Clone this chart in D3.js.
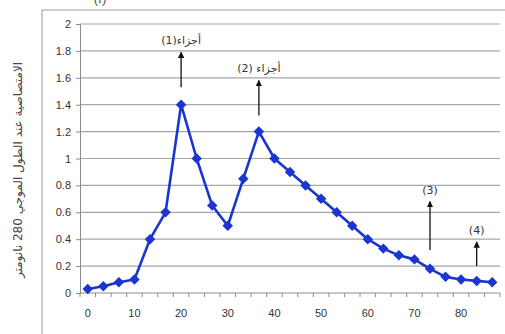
<!DOCTYPE html>
<html>
<head>
<meta charset="utf-8">
<script src="https://cdn.jsdelivr.net/npm/d3@7"></script>
<style>
  body { margin: 0; background: #fff; }
  svg { display: block; font-family: "Liberation Sans", Arial, sans-serif; }
</style>
</head>
<body>
<svg id="chart" width="505" height="334"></svg>
<script>
// fraction number along the x axis (every third one is labelled)
const categories = [0, 3.3, 6.7, 10, 13.3, 16.7, 20, 23.3, 26.7, 30, 33.3, 36.7, 40, 43.3,
    46.7, 50, 53.3, 56.7, 60, 63.3, 66.7, 70, 73.3, 76.7, 80, 83.3, 86.7];
const absorbance = [0.03, 0.05, 0.08, 0.1, 0.4, 0.6, 1.4, 1.0, 0.65, 0.5, 0.85, 1.2, 1.0, 0.9,
    0.8, 0.7, 0.6, 0.5, 0.4, 0.33, 0.28, 0.25, 0.18, 0.12, 0.1, 0.09, 0.08];
const xTickLabels = ["0", "10", "20", "30", "40", "50", "60", "70", "80"];
const yTicks = [0, 0.2, 0.4, 0.6, 0.8, 1, 1.2, 1.4, 1.6, 1.8, 2];
// arrows: category index, arrow start / end value, label
const peaks = [
    {i: 6, from: 1.53, to: 1.79, label: "أجزاء(1)"},
    {i: 11, from: 1.32, to: 1.58, label: "أجزاء (2)"},
    {i: 22, from: 0.32, to: 0.68, label: "(3)"},
    {i: 25, from: 0.2, to: 0.38, label: "(4)"}
];
const yTitle = "الامتصاصية عند الطول الموجي 280 نانومتر";

let svg = d3.select("#chart");
let mLeft = 80, mRight = 500, mTop = 24, mBottom = 293;

let x = d3.scaleBand().domain(d3.range(categories.length)).range([mLeft, mRight]);
let y = d3.scaleLinear().domain([0, 2]).range([mBottom, mTop]);
let cx = i => x(i) + x.bandwidth() / 2;

// chart area frame
svg.append("rect")
    .attr("x", 42).attr("y", 10).attr("width", 470).attr("height", 340)
    .attr("fill", "none").attr("stroke", "#bdbdbd").attr("stroke-width", 1.5);

svg.append("text")
    .attr("x", 100).attr("y", 3)
    .attr("text-anchor", "middle")
    .style("font-size", "13px").attr("fill", "#555")
    .text("(أ)");

// gridlines
svg.append("g").selectAll("line")
    .data(yTicks.slice(1))
    .enter().append("line")
    .attr("x1", mLeft).attr("x2", mRight)
    .attr("y1", d => y(d)).attr("y2", d => y(d))
    .attr("stroke", "#a6a6a6").attr("stroke-width", 1.2);

// y axis
let yAxis = svg.append("g")
    .attr("transform", `translate(${mLeft},0)`)
    .call(d3.axisLeft(y).tickValues(yTicks).tickSize(4).tickPadding(5).tickFormat(d3.format("~g")));
yAxis.select(".domain").attr("stroke", "#8c8c8c");
yAxis.selectAll(".tick line").attr("stroke", "#8c8c8c");
yAxis.selectAll("text").style("font-size", "11px").attr("fill", "#333");

// x axis: ticks between categories, labels on every third one
let xAxisG = svg.append("g").attr("transform", `translate(0,${mBottom})`);
xAxisG.append("line")
    .attr("x1", mLeft).attr("x2", mRight)
    .attr("stroke", "#8c8c8c");
xAxisG.selectAll(".tk")
    .data(d3.range(categories.length + 1))
    .enter().append("line")
    .attr("class", "tk")
    .attr("x1", d => mLeft + d * x.bandwidth()).attr("x2", d => mLeft + d * x.bandwidth())
    .attr("y1", 0).attr("y2", 4)
    .attr("stroke", "#8c8c8c");
xAxisG.selectAll("text")
    .data(categories.map((c, i) => ({c, i})).filter(d => xTickLabels.includes(String(d.c))))
    .enter().append("text")
    .attr("x", d => cx(d.i))
    .attr("y", 24)
    .attr("text-anchor", "middle")
    .style("font-size", "11px").attr("fill", "#333")
    .text(d => d.c);

// y title
svg.append("text")
    .attr("transform", "translate(22,170) rotate(-90)")
    .attr("text-anchor", "middle")
    .style("font-size", "12px")
    .style("font-family", "'DejaVu Sans', sans-serif")
    .attr("fill", "#444")
    .text(yTitle);

// series line
let line = d3.line().x((d, i) => cx(i)).y(d => y(d));
svg.append("path")
    .datum(absorbance)
    .attr("d", line)
    .attr("fill", "none")
    .attr("stroke", "#1a35d0")
    .attr("stroke-width", 2.6)
    .attr("stroke-linejoin", "round");

svg.append("g").selectAll("path")
    .data(absorbance)
    .enter().append("path")
    .attr("transform", (d, i) => `translate(${cx(i)},${y(d)})`)
    .attr("d", d3.symbol(d3.symbolDiamond2, 70))
    .attr("fill", "#1a35d0");

// arrows
let defs = svg.append("defs");
defs.append("marker")
    .attr("id", "head")
    .attr("viewBox", "0 0 10 10")
    .attr("refX", 9).attr("refY", 5)
    .attr("markerWidth", 5).attr("markerHeight", 5)
    .attr("orient", "auto")
    .append("path").attr("d", "M0,0L10,5L0,10Z").attr("fill", "#111");

let ann = svg.append("g").selectAll("g").data(peaks).enter().append("g");
ann.append("line")
    .attr("x1", d => cx(d.i)).attr("x2", d => cx(d.i))
    .attr("y1", d => y(d.from)).attr("y2", d => y(d.to))
    .attr("stroke", "#111").attr("stroke-width", 1.3)
    .attr("marker-end", "url(#head)");
ann.append("text")
    .attr("x", d => cx(d.i))
    .attr("y", d => y(d.to) - 8)
    .attr("text-anchor", "middle")
    .style("font-size", "11px")
    .style("font-family", "'DejaVu Sans', sans-serif")
    .attr("fill", "#333")
    .text(d => d.label);
</script>
</body>
</html>
